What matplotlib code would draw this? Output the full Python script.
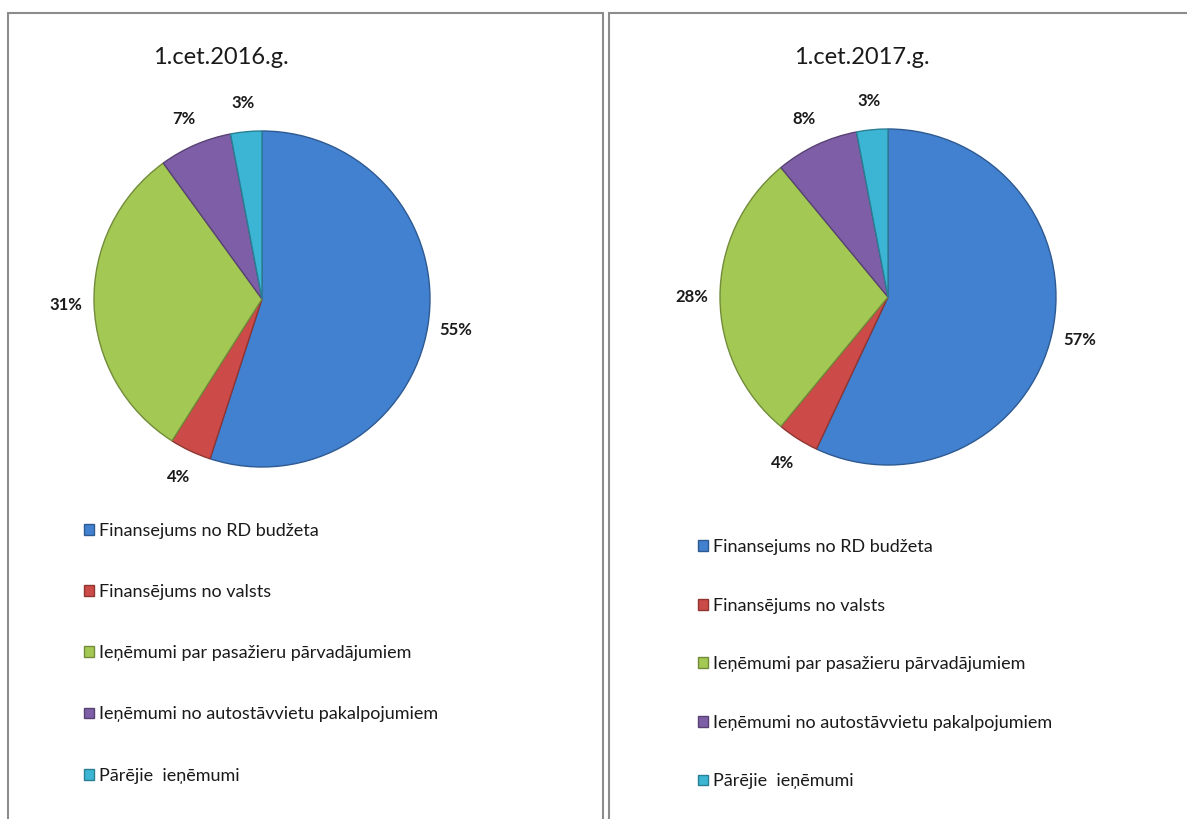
import matplotlib
matplotlib.use('Agg')
import matplotlib.pyplot as plt
from matplotlib.patches import Rectangle
from matplotlib.colors import to_rgb

plt.rcParams['font.family'] = ['Lato', 'DejaVu Sans']

categories = ['Finansejums no RD budžeta',
              'Finansējums no valsts',
              'Ieņēmumi par pasažieru pārvadājumiem',
              'Ieņēmumi no autostāvvietu pakalpojumiem',
              'Pārējie  ieņēmumi']
titles = ['1.cet.2016.g.', '1.cet.2017.g.']
values_2016 = [55, 4, 31, 7, 3]
values_2017 = [57, 4, 28, 8, 3]

colors = ['#4280D0', '#CC4B48', '#A3C853', '#7E5EA6', '#3BB5D3']
edges = [tuple(c * 0.7 for c in to_rgb(col)) for col in colors]

W, H = 1187, 819
fig = plt.figure(figsize=(W / 100, H / 100), dpi=100)

# panel borders (pixels: x0, x1), top at y=13
for x0, x1 in [(8, 603), (609, 1195)]:
    fig.patches.append(Rectangle((x0 / W, -0.01), (x1 - x0) / W, (H - 13) / H + 0.01,
                                 transform=fig.transFigure, fill=False,
                                 edgecolor='#8C8C8C', linewidth=1.5))

# pie centers in pixels, radius, title center, legend top-left, legend spacing
panels = [
    dict(vals=values_2016, cx=262, cy=299, r=168, tx=221, ty=57, lx=84, ly=523, sp=2.5),
    dict(vals=values_2017, cx=888, cy=297, r=168, tx=862, ty=58, lx=698, ly=539, sp=2.36),
]

for p, title in zip(panels, titles):
    r = p['r']
    ax = fig.add_axes([(p['cx'] - r) / W, (H - p['cy'] - r) / H, 2 * r / W, 2 * r / H])
    wedges, texts, autotexts = ax.pie(
        p['vals'], colors=colors, startangle=90, counterclock=False,
        radius=1, autopct='%d%%', pctdistance=1.17,
        wedgeprops=dict(linewidth=1.0),
        textprops=dict(fontsize=12, fontweight='bold', color='#1a1a1a'))
    for w, e in zip(wedges, edges):
        w.set_edgecolor(e)
    ax.set_xlim(-1, 1)
    ax.set_ylim(-1, 1)
    ax.set_aspect('equal')
    ax.axis('off')

    fig.text(p['tx'] / W, 1 - p['ty'] / H, title, ha='center', va='center',
             fontsize=17, color='#1a1a1a')

    fig.legend(wedges, categories, loc='upper left',
               bbox_to_anchor=(p['lx'] / W, 1 - p['ly'] / H),
               frameon=False, fontsize=13, handlelength=0.55, handleheight=0.55,
               handletextpad=0.3, labelspacing=p['sp'], borderpad=0,
               borderaxespad=0, labelcolor='#1a1a1a')

fig.savefig('out.png', dpi=100, facecolor='white')
